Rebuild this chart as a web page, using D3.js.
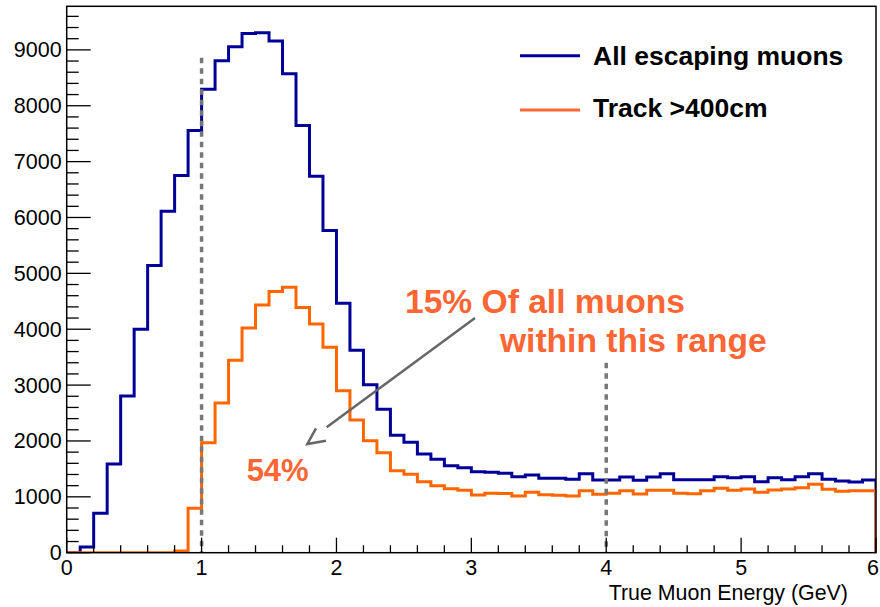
<!DOCTYPE html>
<html>
<head>
<meta charset="utf-8">
<script src="https://cdn.jsdelivr.net/npm/d3@7"></script>
<style>
  html, body { margin: 0; padding: 0; background: #fff; }
  svg { display: block; font-family: "Liberation Sans", Arial, Helvetica, sans-serif; }
</style>
</head>
<body>
<svg id="chart" width="880" height="607"></svg>
<script>
// Bin layout: 60 bins of 0.1 GeV from 0 to 6 GeV
const binWidth = 0.1;
const xRange = [0, 6];

// All escaping muons, counts per bin
const allMuons = [
  0, 100, 705, 1588, 2806, 4000, 5139, 6113, 6750, 7556,
  8297, 8804, 9055, 9293, 9305, 9157, 8571, 7645, 6739, 5765,
  4466, 3624, 3008, 2568, 2102, 1977, 1767, 1672, 1558, 1522,
  1450, 1439, 1421, 1361, 1391, 1332, 1332, 1314, 1415, 1301,
  1301, 1355, 1296, 1355, 1415, 1307, 1307, 1307, 1361, 1343,
  1361, 1272, 1343, 1307, 1361, 1415, 1313, 1284, 1266, 1301
];

// Muons with track length > 400 cm, counts per bin
const longTracks = [
  0, 0, 0, 0, 0, 0, 0, 0, 30, 795,
  1970, 2680, 3444, 4023, 4435, 4674, 4752, 4387, 4095, 3678,
  2900, 2376, 2006, 1791, 1468, 1404, 1272, 1200, 1146, 1117,
  1033, 1063, 1060, 1015, 1081, 1039, 1027, 1015, 1110, 1045,
  1063, 1110, 1051, 1117, 1117, 1063, 1057, 1110, 1152, 1117,
  1140, 1081, 1122, 1140, 1164, 1224, 1134, 1099, 1110, 1110
];

const seriesNames = ["All escaping muons", "Track >400cm"];
const xTicks = [0, 1, 2, 3, 4, 5, 6];
const yTicks = [0, 1000, 2000, 3000, 4000, 5000, 6000, 7000, 8000, 9000];
const yMax = 9780;

// Energy window markers (GeV) and their heights (counts)
const windowEdges = [1, 4];
const windowTops = [8860, 3400];

const colors = { all: "#000099", track: "#ff6600", note: "#ff6633", guide: "#777777", arrow: "#666666" };

const svg = d3.select("#chart");
const margin = { left: 66.7, right: 4, top: 6.3, bottom: 54.3 };
const W = 880, H = 607;
const plotW = W - margin.left - margin.right;
const plotH = H - margin.top - margin.bottom;

const x = d3.scaleLinear().domain(xRange).range([margin.left, margin.left + plotW]);
const y = d3.scaleLinear().domain([0, yMax]).range([margin.top + plotH, margin.top]);

svg.append("clipPath").attr("id", "plot-clip")
  .append("rect")
  .attr("x", margin.left).attr("y", margin.top)
  .attr("width", plotW).attr("height", plotH);

// Step outline of a histogram, closed to the baseline at both ends
function histPoints(values) {
  const pts = [[xRange[0], 0]];
  values.forEach((v, i) => {
    pts.push([xRange[0] + i * binWidth, v]);
    pts.push([xRange[0] + (i + 1) * binWidth, v]);
  });
  pts.push([xRange[0] + values.length * binWidth, 0]);
  return pts;
}
const line = d3.line().x(d => x(d[0])).y(d => y(d[1]));

const plot = svg.append("g").attr("clip-path", "url(#plot-clip)");

plot.append("path")
  .attr("d", line(histPoints(allMuons)))
  .attr("fill", "none").attr("stroke", colors.all)
  .attr("stroke-width", 3).attr("stroke-linejoin", "miter");

plot.append("path")
  .attr("d", line(histPoints(longTracks)))
  .attr("fill", "none").attr("stroke", colors.track)
  .attr("stroke-width", 3).attr("stroke-linejoin", "miter");

// Dotted energy-window guides
svg.selectAll(".guide").data(windowEdges).enter().append("line")
  .attr("class", "guide")
  .attr("x1", d => x(d)).attr("x2", d => x(d))
  .attr("y1", (d, i) => y(windowTops[i])).attr("y2", y(0))
  .attr("stroke", colors.guide).attr("stroke-width", 3.5)
  .attr("stroke-dasharray", "5.5,5");

// Axes: ROOT-style ticks pointing into the frame
const axisG = svg.append("g");
const minorY = d3.range(0, yMax, 200).filter(v => v % 1000 !== 0);
axisG.selectAll(".ytick").data(yTicks).enter().append("line")
  .attr("x1", x(0)).attr("x2", x(0) + 24)
  .attr("y1", d => y(d)).attr("y2", d => y(d))
  .attr("stroke", "#000").attr("stroke-width", 1.3);
axisG.selectAll(".yminor").data(minorY).enter().append("line")
  .attr("x1", x(0)).attr("x2", x(0) + 12)
  .attr("y1", d => y(d)).attr("y2", d => y(d))
  .attr("stroke", "#000").attr("stroke-width", 1.3);

const minorX = d3.range(0, 6.0001, 0.2).filter(v => Math.abs(v - Math.round(v)) > 1e-6);
axisG.selectAll(".xtick").data(xTicks).enter().append("line")
  .attr("x1", d => x(d)).attr("x2", d => x(d))
  .attr("y1", y(0)).attr("y2", y(0) - 15)
  .attr("stroke", "#000").attr("stroke-width", 1.3);
axisG.selectAll(".xminor").data(minorX).enter().append("line")
  .attr("x1", d => x(d)).attr("x2", d => x(d))
  .attr("y1", y(0)).attr("y2", y(0) - 7.5)
  .attr("stroke", "#000").attr("stroke-width", 1.3);

// Frame
svg.append("rect")
  .attr("x", margin.left).attr("y", margin.top)
  .attr("width", plotW).attr("height", plotH)
  .attr("fill", "none").attr("stroke", "#000").attr("stroke-width", 1.5);

// Tick labels
svg.selectAll(".ylab").data(yTicks).enter().append("text")
  .attr("x", x(0) - 5).attr("y", d => y(d)).attr("dy", "0.35em")
  .attr("text-anchor", "end").attr("font-size", 21.5).attr("fill", "#000")
  .text(d => d);

// The last label sits at the page edge, so it is right-aligned there
svg.selectAll(".xlab").data(xTicks).enter().append("text")
  .attr("x", (d, i) => i === xTicks.length - 1 ? W - 1 : x(d))
  .attr("y", y(0) + 22)
  .attr("text-anchor", (d, i) => i === xTicks.length - 1 ? "end" : "middle")
  .attr("font-size", 21.5).attr("fill", "#000")
  .text(d => d);

svg.append("text")
  .attr("x", 848).attr("y", 600)
  .attr("text-anchor", "end").attr("font-size", 21.4).attr("fill", "#000")
  .text("True Muon Energy (GeV)");

// Legend
const legend = svg.append("g").attr("transform", "translate(520,0)");
[[colors.all, 55.7, 64.5], [colors.note, 110, 117]].forEach((d, i) => {
  legend.append("line")
    .attr("x1", 0).attr("x2", 60).attr("y1", d[1]).attr("y2", d[1])
    .attr("stroke", d[0]).attr("stroke-width", 3);
  legend.append("text")
    .attr("x", 73).attr("y", d[2])
    .attr("font-size", 26.5).attr("font-weight", "bold").attr("fill", "#000")
    .text(seriesNames[i]);
});

// Annotation: share of muons in the 1-4 GeV window
svg.append("text")
  .attr("x", x(2.508)).attr("y", y(4292))
  .attr("font-size", 33.6).attr("font-weight", "bold").attr("fill", colors.note)
  .text("15% Of all muons");
svg.append("text")
  .attr("x", x(3.212)).attr("y", y(3599))
  .attr("font-size", 33.6).attr("font-weight", "bold").attr("fill", colors.note)
  .text("within this range");
svg.append("text")
  .attr("x", x(1.334)).attr("y", y(1284))
  .attr("font-size", 31).attr("font-weight", "bold").attr("fill", colors.note)
  .text("54%");

// Arrow from the annotation to the long-track fraction
svg.append("line")
  .attr("x1", x(3.027)).attr("y1", y(4202))
  .attr("x2", x(1.927)).attr("y2", y(2245))
  .attr("stroke", colors.arrow).attr("stroke-width", 2.5);
svg.append("path")
  .attr("d", line([[1.848, 2227], [1.784, 1946], [1.922, 2005]]))
  .attr("fill", "none").attr("stroke", colors.arrow).attr("stroke-width", 2.5)
  .attr("stroke-linejoin", "miter");
</script>
</body>
</html>
